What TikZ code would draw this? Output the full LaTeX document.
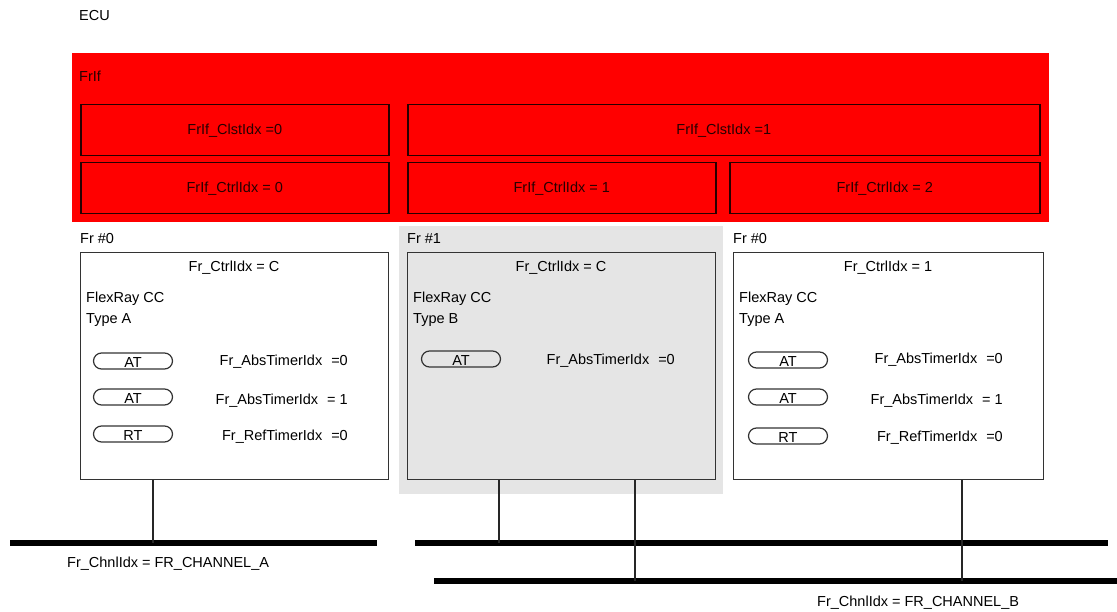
\documentclass[tikz,border=0pt]{standalone}
\usepackage{fontspec}
\setmainfont{Liberation Sans}
\begin{document}
\begin{tikzpicture}[x=1pt,y=-1pt]
	% Styles (MODIFIABLES)
	\tikzstyle{texte}=[font=\fontsize{14.5pt}{16pt}\selectfont,inner sep=0pt]
	\tikzstyle{bloc}=[texte,fill=red,anchor=north west,minimum height=51pt,draw=black!85!red,line width=1.5pt,text=black!85!red]
	\tikzstyle{cadre}=[draw=black!80,line width=1.4pt,anchor=north west,minimum width=308pt,minimum height=227pt,inner sep=0pt]
	\tikzstyle{pastille}=[texte,draw=black!80,line width=1.2pt,rounded corners=8pt,minimum width=79pt,minimum height=16pt,text height=13pt,text depth=0pt]
	\tikzstyle{liaison}=[draw=black!85,line width=1.5pt]
	\tikzstyle{bus}=[line width=6pt]
	% Dimensions (MODIFIABLES)
	\def\ColA{80}
	\def\ColB{407}
	\def\ColC{733}
	\def\Ecart{\hspace{9pt}}
	\useasboundingbox (0,0) rectangle (1117,612);
	% Noeuds FrIf
	\node[texte,anchor=west] (ecu) at (79,16) {ECU};
	\node[fill=red,anchor=north west,minimum width=977pt,minimum height=169pt,inner sep=0pt] (frif) at (72,53) {};
	\node[texte,anchor=west,text=black!85!red] (frifnom) at (79,76) {FrIf};
	\node[bloc,minimum width=308pt] (clst0) at (\ColA,104) {FrIf\_ClstIdx =0};
	\node[bloc,minimum width=632pt] (clst1) at (\ColB,104) {FrIf\_ClstIdx =1};
	\node[bloc,minimum width=308pt] (ifctrl0) at (\ColA,162) {FrIf\_CtrlIdx = 0};
	\node[bloc,minimum width=308pt] (ifctrl1) at (\ColB,162) {FrIf\_CtrlIdx = 1};
	\node[bloc,minimum width=310pt] (ifctrl2) at (729,162) {FrIf\_CtrlIdx = 2};
	% Noeuds Fr
	\node[fill=gray!20,anchor=north west,minimum width=324pt,minimum height=268pt,inner sep=0pt] (fond) at (399,226) {};
	\node[texte,anchor=west] (frA) at (\ColA,239) {Fr \#0};
	\node[texte,anchor=west] (frB) at (\ColB,239) {Fr \#1};
	\node[texte,anchor=west] (frC) at (\ColC,239) {Fr \#0};
	\node[cadre] (ccA) at (\ColA,252) {};
	\node[cadre,fill=gray!20] (ccB) at (\ColB,252) {};
	\node[cadre,minimum width=310pt] (ccC) at (\ColC,252) {};
	\node[texte] (ctrlA) at (234,268) {Fr\_CtrlIdx = C};
	\node[texte] (ctrlB) at (561,268) {Fr\_CtrlIdx = C};
	\node[texte] (ctrlC) at (888,268) {Fr\_CtrlIdx = 1};
	\node[texte,anchor=west] (typA) at (86,299) {FlexRay CC};
	\node[texte,anchor=west] at (86,320) {Type A};
	\node[texte,anchor=west] (typB) at (413,299) {FlexRay CC};
	\node[texte,anchor=west] at (413,320) {Type B};
	\node[texte,anchor=west] (typC) at (739,299) {FlexRay CC};
	\node[texte,anchor=west] at (739,320) {Type A};
	% Timers
	\node[pastille] (atA0) at (133,361) {AT};
	\node[pastille] (atA1) at (133,397) {AT};
	\node[pastille] (rtA0) at (133,434) {RT};
	\node[texte,anchor=east] at (348,362) {Fr\_AbsTimerIdx\Ecart=0};
	\node[texte,anchor=east] at (348,401) {Fr\_AbsTimerIdx\Ecart= 1};
	\node[texte,anchor=east] at (348,437) {Fr\_RefTimerIdx\Ecart=0};
	\node[pastille] (atB0) at (461,359) {AT};
	\node[texte,anchor=east] at (675,361) {Fr\_AbsTimerIdx\Ecart=0};
	\node[pastille] (atC0) at (788,360) {AT};
	\node[pastille] (atC1) at (788,397) {AT};
	\node[pastille] (rtC0) at (788,436) {RT};
	\node[texte,anchor=east] at (1003,360) {Fr\_AbsTimerIdx\Ecart=0};
	\node[texte,anchor=east] at (1003,401) {Fr\_AbsTimerIdx\Ecart= 1};
	\node[texte,anchor=east] at (1003,438) {Fr\_RefTimerIdx\Ecart=0};
	% Bus
	\coordinate (busAg) at (10,543);
	\coordinate (busAd) at (377,543);
	\coordinate (busBg) at (415,543);
	\coordinate (busBd) at (1108,543);
	\coordinate (busCg) at (434,581);
	\coordinate (busCd) at (1117,581);
	\coordinate (tapA) at (153,543);
	\coordinate (tapB) at (499,543);
	\coordinate (tapBb) at (635,581);
	\coordinate (tapC) at (962,581);
	\draw[bus] (busAg)--(busAd);
	\draw[bus] (busBg)--(busBd);
	\draw[bus] (busCg)--(busCd);
	% Arcs
	\draw[liaison] (ccA.south -| tapA)--(tapA);
	\draw[liaison] (ccB.south -| tapB)--(tapB);
	\draw[liaison] (ccB.south -| tapBb)--(tapBb);
	\draw[liaison] (ccC.south -| tapC)--(tapC);
	\node[texte,anchor=west] (chA) at (67,564) {Fr\_ChnlIdx = FR\_CHANNEL\_A};
	\node[texte,anchor=west] (chB) at (817,603) {Fr\_ChnlIdx = FR\_CHANNEL\_B};
\end{tikzpicture}
\end{document}
